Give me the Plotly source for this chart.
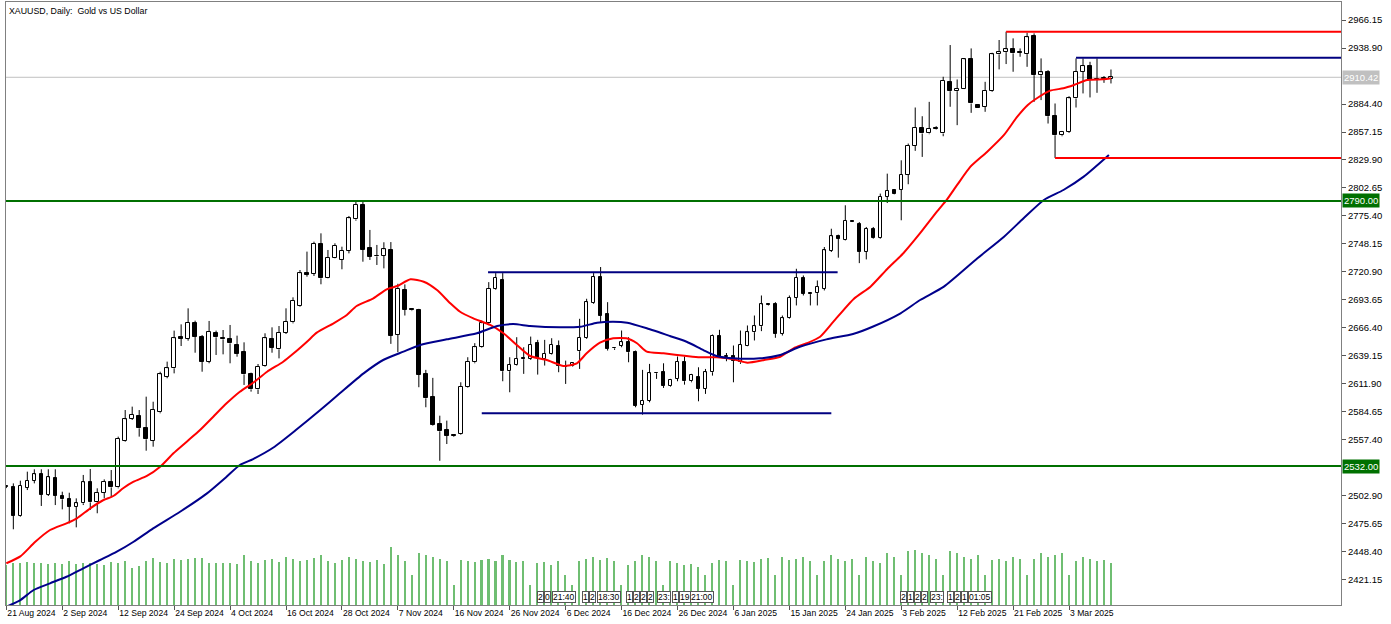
import plotly.graph_objects as go

# ---------------- data ----------------
open_ = [2512.5,2511.9,2483.7,2510.9,2517.4,2523.9,2503.8,2520.0,2503.1,2499.6,
         2492.4,2495.7,2516.1,2496.6,2506.1,2516.1,2511.2,2556.7,2577.8,2581.0,
         2569.3,2556.7,2584.3,2619.0,2627.1,2657.9,2655.7,2671.5,2657.9,2633.6,
         2661.8,2657.0,2655.3,2649.8,2642.7,2621.2,2606.6,2629.4,2655.7,2645.6,
         2661.8,2671.9,2688.1,2719.6,2718.9,2748.1,2715.4,2734.8,2733.0,2741.3,
         2772.1,2786.1,2743.9,2736.8,2736.8,2742.5,2659.7,2703.6,2684.7,2684.1,
         2621.7,2599.6,2572.9,2567.1,2562.2,2563.2,2608.6,2633.0,2647.6,2671.0,
         2704.5,2713.3,2624.3,2630.4,2636.6,2636.3,2651.6,2636.3,2641.2,2649.3,
         2629.8,2629.8,2643.8,2656.8,2690.9,2715.9,2679.5,2647.0,2649.3,2652.5,
         2642.8,2591.4,2595.7,2622.6,2623.3,2610.3,2616.8,2633.7,2614.5,2619.0,
         2607.0,2623.3,2659.0,2637.9,2639.5,2633.0,2649.3,2662.3,2668.1,2689.6,
         2689.3,2660.6,2675.9,2695.8,2715.3,2700.0,2700.3,2704.5,2741.3,2756.2,
         2752.3,2770.8,2767.9,2740.3,2763.0,2754.2,2793.9,2800.4,2801.1,2815.7,
         2843.6,2861.5,2855.7,2860.8,2855.7,2906.0,2896.9,2899.5,2927.8,2883.9,
         2881.7,2897.3,2932.7,2934.9,2937.6,2934.9,2933.0,2950.5,2912.5,2915.1,
         2872.5,2854.0,2857.3,2889.8,2915.8,2921.3,2908.3,2909.0,2909.0]
high = [2513.5,2515.1,2517.7,2526.5,2528.8,2528.8,2528.8,2528.8,2507.0,2506.0,
        2500.5,2523.3,2529.1,2510.3,2519.0,2528.1,2560.6,2586.5,2589.8,2586.5,
        2599.5,2594.6,2623.8,2633.6,2663.8,2669.9,2685.5,2673.5,2659.5,2673.2,
        2663.8,2664.4,2669.3,2658.9,2652.4,2622.9,2631.3,2661.2,2667.0,2668.3,
        2685.5,2696.2,2722.8,2740.7,2750.4,2758.5,2742.3,2748.8,2745.5,2775.4,
        2789.3,2789.3,2761.8,2747.2,2749.8,2750.0,2709.4,2708.8,2685.4,2685.0,
        2625.6,2617.8,2581.0,2576.2,2562.5,2613.5,2637.9,2651.6,2673.7,2711.0,
        2719.8,2719.8,2637.9,2657.4,2647.6,2658.0,2654.8,2654.8,2656.4,2654.2,
        2634.6,2633.0,2675.3,2694.8,2719.8,2725.7,2691.5,2647.6,2663.9,2657.4,
        2644.4,2625.6,2631.4,2623.3,2632.0,2616.8,2638.6,2638.6,2621.7,2628.1,
        2626.5,2660.0,2664.6,2642.0,2649.3,2663.9,2668.8,2678.5,2698.0,2689.9,
        2691.5,2678.5,2698.0,2724.0,2717.5,2700.3,2712.6,2745.2,2763.0,2757.2,
        2785.8,2771.2,2769.5,2764.7,2764.7,2797.2,2816.6,2801.1,2829.6,2845.9,
        2881.0,2872.5,2886.5,2862.8,2910.9,2941.8,2908.3,2928.8,2938.5,2884.2,
        2906.0,2934.3,2946.7,2954.8,2948.3,2938.5,2953.8,2953.2,2928.8,2917.4,
        2884.9,2858.2,2892.0,2928.8,2928.8,2925.5,2928.8,2911.6,2918.0]
low = [2510.5,2470.4,2482.7,2508.6,2515.1,2493.1,2502.8,2494.0,2489.8,2476.2,
       2472.3,2494.0,2489.2,2486.0,2500.5,2502.2,2510.3,2555.7,2576.8,2560.6,
       2546.9,2550.8,2583.3,2617.4,2622.2,2648.8,2654.0,2642.3,2623.8,2632.0,
       2640.1,2640.7,2632.0,2638.4,2610.9,2604.4,2602.1,2628.7,2642.3,2636.8,
       2660.5,2670.9,2687.1,2716.3,2717.0,2708.9,2714.7,2734.2,2723.5,2739.0,
       2770.8,2730.9,2732.6,2727.7,2724.4,2650.9,2642.8,2678.5,2682.8,2608.7,
       2589.2,2571.3,2537.1,2553.4,2560.5,2562.5,2608.0,2632.0,2647.0,2670.4,
       2703.6,2614.5,2603.8,2629.8,2621.7,2635.3,2621.0,2629.8,2640.5,2623.3,
       2611.9,2628.8,2626.5,2655.8,2689.9,2672.0,2644.4,2645.0,2647.6,2633.0,
       2589.2,2582.0,2594.0,2616.8,2608.0,2609.3,2614.5,2611.2,2613.5,2595.0,
       2602.2,2620.0,2637.2,2634.0,2613.5,2631.4,2648.6,2654.2,2663.3,2688.3,
       2656.8,2659.0,2675.3,2688.3,2698.0,2688.3,2688.3,2702.9,2740.3,2734.8,
       2751.6,2769.5,2729.5,2733.1,2753.3,2753.3,2788.0,2796.5,2771.2,2806.3,
       2838.8,2832.9,2855.0,2859.6,2853.0,2881.7,2863.8,2898.9,2875.8,2881.0,
       2876.8,2896.3,2918.1,2923.3,2915.8,2930.4,2920.6,2886.5,2888.2,2865.4,
       2831.9,2853.0,2856.3,2881.0,2894.7,2890.8,2895.3,2905.0,2904.4]
close = [2511.8,2483.7,2512.5,2517.4,2523.9,2503.8,2521.0,2502.8,2499.6,2492.4,
         2495.7,2516.1,2496.6,2506.1,2516.8,2511.2,2558.3,2577.4,2581.7,2568.7,
         2558.0,2586.5,2621.2,2627.1,2656.3,2656.0,2671.5,2657.9,2633.6,2662.8,
         2657.3,2655.3,2651.4,2641.0,2621.2,2606.6,2628.7,2656.3,2647.2,2661.8,
         2672.5,2692.6,2719.6,2718.3,2748.1,2714.7,2734.8,2746.2,2741.5,2773.1,
         2786.1,2742.3,2735.8,2736.1,2742.9,2659.0,2704.5,2684.1,2683.4,2621.0,
         2597.9,2571.9,2565.8,2561.5,2561.2,2609.3,2633.7,2647.6,2671.0,2704.5,
         2715.3,2624.3,2630.8,2636.3,2636.0,2649.9,2637.3,2641.2,2649.9,2629.8,
         2628.8,2632.0,2656.8,2691.5,2715.9,2678.5,2646.0,2646.6,2652.5,2642.8,
         2590.8,2595.7,2622.3,2622.3,2610.3,2615.8,2633.7,2614.5,2621.0,2607.0,
         2623.3,2659.0,2637.9,2639.0,2634.6,2649.9,2662.3,2668.1,2689.3,2689.0,
         2660.6,2675.9,2695.8,2715.3,2699.7,2699.3,2706.2,2741.9,2755.6,2753.3,
         2770.5,2769.9,2740.3,2763.0,2754.2,2793.9,2799.8,2797.2,2815.7,2843.6,
         2861.5,2855.7,2860.5,2860.2,2907.0,2896.9,2899.5,2927.8,2884.9,2881.0,
         2897.3,2932.7,2934.9,2937.6,2933.7,2934.3,2949.3,2912.5,2915.1,2872.5,
         2854.0,2857.3,2889.8,2915.8,2921.3,2907.6,2909.0,2908.6,2910.4]
# tick volume (thousands)
volume = [200,211,211,215,208,211,205,208,205,218,
          205,211,211,205,198,215,211,218,183,196,
          220,235,215,208,230,223,230,235,235,208,
          208,211,211,205,250,
          220,210,225,230,215,240,230,220,225,235,
          250,220,210,225,240,230,220,215,225,205,
          290,250,220,150,260,250,240,230,220,100,
          225,220,215,225,230,220,
          250,225,215,220,100,210,215,200,220,150,
          100,220,230,240,225,235,220,100,200,220,
          250,240,220,100,220,210,200,205,190,150,
          210,225,220,100,225,220,215,230,235,150,
          240,
          225,230,240,220,150,220,250,230,220,230,
          150,240,220,210,260,240,150,270,275,260,
          250,230,150,270,260,240,230,250,150,225,
          230,220,240,230,150,230,260,240,250,260,
          150,220,240,230,220,225,210,40]
bar_index = list(range(len(close)))

red_ma_idx = [0,2,4.1,6.25,8.6,10.1,12,13.9,15.3,16.7,18.2,20.1,22,23.9,25.8,27.7,29.6,31.5,
              33.4,35.3,37.3,39.6,41.1,43,44.4,46.8,48.7,50.1,52.5,54.4,55.9,57.8,59.7,61.6,
              63.5,64.9,66.8,69.2,71.1,73,74.9,77.3,79.7,81.6,83,84.9,86.8,88.7,90.2,91.6,
              94,97.3,99.2,101.6,104,106,108.4,110.7,112.6,114.5,116.4,118.3,121.2,123.6,
              126,128.3,130.7,133.1,134.5,136,137.9,140.3,142.7,144.6,146.1,147.4,149.3,
              151.2,152.7,154.6,156.9,158]
red_ma_val = [2437.3,2444.0,2458.0,2469.7,2476.2,2481.1,2490.8,2498.9,2502.8,2510.3,2516.7,
              2522.3,2531.3,2544.4,2555.7,2567.0,2580.0,2593.0,2604.3,2613.1,2623.8,2633.5,
              2641.7,2653.0,2661.8,2670.9,2679.0,2687.8,2695.3,2704.0,2707.2,2713.8,2711.4,
              2703.3,2690.4,2682.2,2675.8,2669.3,2661.2,2649.8,2639.1,2635.2,2629.4,2632.0,
              2641.7,2652.0,2656.3,2656.3,2651.5,2643.3,2641.7,2639.1,2637.8,2637.8,2635.9,
              2632.6,2635.2,2638.4,2646.6,2651.5,2657.9,2672.5,2694.6,2706.6,2723.8,2739.1,
              2758.6,2779.6,2791.0,2805.6,2823.4,2838.0,2854.3,2872.1,2883.5,2890.0,2897.4,
              2899.7,2902.9,2907.8,2908.5,2909.5]
blue_ma_idx = [0,2,3.9,6.25,8.6,11,13.4,15.8,18.2,21,24.85,28.7,31.5,33.4,35.3,38.2,41.5,
               44.9,47.7,51.1,53.9,56.8,59.2,63,67.3,70.2,72.5,74.9,79.2,82.1,84.5,86.8,
               88.8,91.6,94.9,97.3,99.7,101.6,104,107.8,110.7,113.5,117.3,121.1,123.9,
               127.9,130.7,134.1,138.9,142.7,145.5,148.4,151.2,154.1,157.7]
blue_ma_val = [2395.0,2401.5,2411.3,2417.8,2424.2,2432.4,2440.5,2448.6,2458.3,2471.3,2487.5,
               2505.4,2521.6,2533.0,2538.8,2550.0,2567.5,2586.5,2602.8,2622.2,2635.2,2643.3,
               2649.8,2655.3,2661.2,2668.3,2670.2,2668.3,2667.0,2667.6,2671.5,2672.5,2671.5,
               2666.1,2658.6,2653.0,2644.9,2639.1,2636.8,2636.8,2640.1,2648.1,2655.3,2660.5,
               2667.6,2680.7,2693.6,2706.6,2734.2,2755.2,2773.2,2791.0,2800.7,2813.7,2834.8]

date_labels = ["21 Aug 2024","2 Sep 2024","12 Sep 2024","24 Sep 2024","4 Oct 2024",
               "16 Oct 2024","28 Oct 2024","7 Nov 2024","16 Nov 2024","26 Nov 2024",
               "6 Dec 2024","16 Dec 2024","26 Dec 2024","6 Jan 2025","15 Jan 2025",
               "24 Jan 2025","3 Feb 2025","12 Feb 2025","21 Feb 2025","3 Mar 2025"]
date_label_bar = [0,8,16,24,32,40,48,56,64,72,80,88,96,104,112,120,128,136,144,152]

price_ticks = [2966.15,2938.90,2884.40,2857.15,2829.90,2802.65,2775.40,2748.15,2720.90,
               2693.65,2666.40,2639.15,2611.90,2584.65,2557.40,2502.90,2475.65,2448.40,2421.15]

support_levels = [2790.00, 2532.00]          # full-width green lines
bid_price = 2910.42
# partial horizontal objects: (start bar, end bar, price, colour)
seg_start = [143, 150, 153, 68.9, 68.0]
seg_end = [None, None, None, 118.9, 118.0]
seg_price = [2954.8, 2831.9, 2929.4, 2720.5, 2583.3]
seg_color = ["#ff0000", "#ff0000", "#000080", "#000080", "#000080"]

event_group1_bar = [76.4, 77.4, 79.8, 82.8, 83.8, 86.2, 89.2, 90.2, 91.2, 92.2, 94.0, 95.7, 97.2, 99.5]
event_group1_txt = ["2", "0", "21:40", "1", "2", "18:30", "1", "2", "2", "2", "23:", "1", "19:", "21:00"]
event_group2_bar = [128.3, 129.3, 130.3, 131.3, 133.1, 135.0, 136.0, 137.0, 139.3]
event_group2_txt = ["2", "1", "2", "2", "23:", "1", "2", "1", "01:05"]

# ---------------- figure ----------------
X_MIN, X_MAX = -0.05, 190.9
Y_MIN, Y_MAX = 2396.7, 2983.7
VOL_TOP = 3015
FONT = "Liberation Sans"

fig = go.Figure()

# volume histogram on hidden axis y
fig.add_trace(go.Bar(x=bar_index, y=volume, yaxis="y", width=0.22,
                     marker=dict(color="#4caf50", line=dict(width=0)),
                     opacity=0.8, hoverinfo="skip", showlegend=False))

# wicks
wx, wy = [], []
for i, (o, h, l, c) in enumerate(zip(open_, high, low, close)):
    top, bot = max(o, c), min(o, c)
    wx += [i, i, None, i, i, None]
    wy += [h, top, None, bot, l, None]
fig.add_trace(go.Scatter(x=wx, y=wy, yaxis="y2", mode="lines",
                         line=dict(color="black", width=1), hoverinfo="skip", showlegend=False))

# bodies
for up in (True, False):
    xs, base, hgt = [], [], []
    for i, (o, c) in enumerate(zip(open_, close)):
        if (c >= o) == up:
            xs.append(i)
            base.append(min(o, c))
            hgt.append(max(abs(c - o), 0.7))
    fig.add_trace(go.Bar(x=xs, y=hgt, base=base, yaxis="y2", width=0.5,
                         marker=dict(color="white" if up else "black",
                                     line=dict(color="black", width=1)),
                         hoverinfo="skip", showlegend=False))

# moving averages
fig.add_trace(go.Scatter(x=red_ma_idx, y=red_ma_val, yaxis="y2", mode="lines",
                         line=dict(color="#ff0000", width=2, shape="spline", smoothing=0.6),
                         hoverinfo="skip", showlegend=False))
fig.add_trace(go.Scatter(x=blue_ma_idx, y=blue_ma_val, yaxis="y2", mode="lines",
                         line=dict(color="#00008b", width=2, shape="spline", smoothing=0.6),
                         hoverinfo="skip", showlegend=False))

shapes = []
shapes.append(dict(type="line", xref="x", yref="y2", x0=X_MIN, x1=X_MAX, y0=bid_price, y1=bid_price,
                   line=dict(color="#c0c0c0", width=1), layer="below"))
for lv in support_levels:
    shapes.append(dict(type="line", xref="x", yref="y2", x0=X_MIN, x1=X_MAX, y0=lv, y1=lv,
                       line=dict(color="#007000", width=2)))
for s, e, p, col in zip(seg_start, seg_end, seg_price, seg_color):
    shapes.append(dict(type="line", xref="x", yref="y2", x0=s, x1=X_MAX if e is None else e,
                       y0=p, y1=p, line=dict(color=col, width=2)))

annotations = [dict(text="XAUUSD, Daily:  Gold vs US Dollar", xref="paper", yref="paper",
                    x=0, y=1, xanchor="left", yanchor="top", xshift=1, yshift=-2, showarrow=False,
                    font=dict(family=FONT, size=8.8, color="black"))]
for val, bg in ((bid_price, "#c0c0c0"), (2790.00, "#007000"), (2532.00, "#007000")):
    annotations.append(dict(text=f"{val:.2f}", xref="paper", yref="y2", x=1, y=val,
                            xanchor="left", yanchor="middle", xshift=1, showarrow=False,
                            bgcolor=bg, borderpad=1,
                            font=dict(family=FONT, size=9.5, color="white")))
for grp_bar, grp_txt in ((event_group1_bar, event_group1_txt), (event_group2_bar, event_group2_txt)):
    for b, t in zip(grp_bar, grp_txt):
        annotations.append(dict(text=t, xref="x", yref="paper", x=b, y=0.0, yshift=8,
                                xanchor="center", yanchor="middle", showarrow=False,
                                bordercolor="#555555", borderwidth=1, borderpad=0,
                                bgcolor="white",
                                font=dict(family=FONT, size=8.5, color="black")))

fig.update_layout(
    width=1391, height=624,
    margin=dict(l=6, r=50, t=2, b=19, autoexpand=False),
    paper_bgcolor="white", plot_bgcolor="white",
    barmode="overlay", bargap=0,
    showlegend=False,
    shapes=shapes, annotations=annotations,
    xaxis=dict(range=[X_MIN, X_MAX], showgrid=False, zeroline=False, automargin=False,
               tickmode="array", tickvals=date_label_bar, ticktext=date_labels,
               tickangle=0,
               ticks="outside", ticklen=4, tickcolor="#555555",
               ticklabelposition="outside right",
               tickfont=dict(family=FONT, size=8.6, color="black"),
               showline=True, linecolor="#808080", linewidth=1, mirror=True),
    yaxis=dict(range=[0, VOL_TOP], visible=False, fixedrange=True),
    yaxis2=dict(range=[Y_MIN, Y_MAX], overlaying="y", side="right", showgrid=False,
                zeroline=False, automargin=False, tickmode="array", tickvals=price_ticks,
                ticktext=[f"{v:.2f}" for v in price_ticks],
                ticks="outside", ticklen=4, tickcolor="#555555",
                tickfont=dict(family=FONT, size=9.5, color="black"),
                showline=True, linecolor="#808080", linewidth=1, mirror=True),
)

fig.write_html("out.html")
